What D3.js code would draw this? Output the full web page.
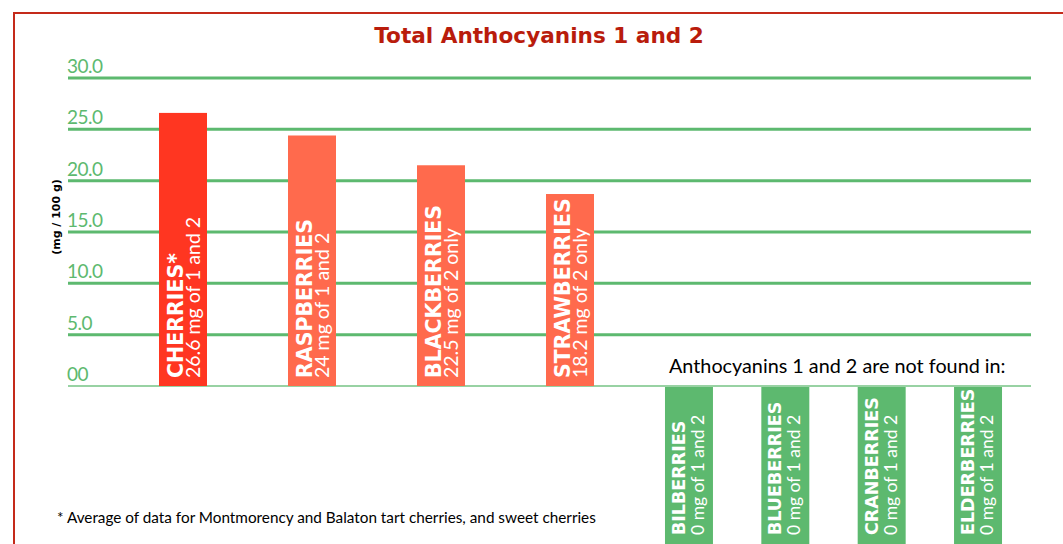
<!DOCTYPE html>
<html>
<head>
<meta charset="utf-8">
<script src="https://cdn.jsdelivr.net/npm/d3@7"></script>
<style>
  html, body { margin: 0; padding: 0; background: #fff; }
  svg { display: block; }
</style>
</head>
<body>
<div id="chart"></div>
<script>
const WIDTH = 1063
const HEIGHT = 544

// Data
const foundNames = ["CHERRIES*", "RASPBERRIES", "BLACKBERRIES", "STRAWBERRIES"]
const foundValues = [26.6, 24.4, 21.5, 18.7]
const foundNotes = ["26.6 mg of 1 and 2", "24 mg of 1 and 2", "22.5 mg of 2 only", "18.2 mg of 2 only"]
const notFoundNames = ["BILBERRIES", "BLUEBERRIES", "CRANBERRIES", "ELDERBERRIES"]
const notFoundNotes = ["0 mg of 1 and 2", "0 mg of 1 and 2", "0 mg of 1 and 2", "0 mg of 1 and 2"]
const yTicks = [0, 5, 10, 15, 20, 25, 30]
const yTickLabels = ["00", "5.0", "10.0", "15.0", "20.0", "25.0", "30.0"]

// Constants
const GREEN = "#5db96f"
const DARK_RED = "#b91c0c"
const BAR_COLORS = ["#ff3621", "#ff6a4d", "#ff6a4d", "#ff6a4d"]
const gridLeft = 68
const gridRight = 1031

// Scales
const y = d3.scaleLinear([0, 30], [386, 78])
const xFound = d3.scaleBand(foundNames, [118.5, 634.5]).paddingInner(0.628).paddingOuter(0.314)
const xNot = d3.scaleBand(notFoundNames, [640.8, 1026.2]).paddingInner(0.502).paddingOuter(0.251)

// Render
const svg = d3.select("#chart").append("svg")
  .attr("width", WIDTH)
  .attr("height", HEIGHT)
  .attr("viewBox", [0, 0, WIDTH, HEIGHT])

// frame (only left and top edges are in view)
svg.append("path")
  .attr("d", `M14,${HEIGHT + 5}V13H${WIDTH + 5}`)
  .attr("fill", "none")
  .attr("stroke", "#c42a1a")
  .attr("stroke-width", 2)

svg.append("text")
  .attr("x", 539)
  .attr("y", 43)
  .attr("text-anchor", "middle")
  .attr("font-family", "DejaVu Sans")
  .attr("font-weight", "bold")
  .attr("font-size", 21.6)
  .attr("fill", DARK_RED)
  .text("Total Anthocyanins 1 and 2")

// grid and tick labels
const grid = svg.append("g")
grid.selectAll("line")
  .data(yTicks)
  .join("line")
    .attr("x1", gridLeft)
    .attr("x2", gridRight)
    .attr("y1", d => y(d))
    .attr("y2", d => y(d))
    .attr("stroke", GREEN)
    .attr("stroke-width", d => d === 0 ? 1.6 : 3)
    .attr("stroke-opacity", d => d === 0 ? 0.85 : 1)

grid.selectAll("text")
  .data(yTicks)
  .join("text")
    .attr("x", 67)
    .attr("y", d => y(d) - 5)
    .attr("font-family", "Lato")
    .attr("font-size", 19)
    .attr("letter-spacing", -0.5)
    .attr("fill", GREEN)
    .text((d, i) => yTickLabels[i])

svg.append("text")
  .attr("transform", "translate(60,217) rotate(-90)")
  .attr("text-anchor", "middle")
  .attr("font-family", "DejaVu Sans")
  .attr("font-weight", "bold")
  .attr("font-size", 11)
  .attr("fill", "#000")
  .text("(mg / 100 g)")

// bars with anthocyanins
const found = svg.append("g")
found.selectAll("rect")
  .data(foundNames)
  .join("rect")
    .attr("x", d => xFound(d))
    .attr("width", xFound.bandwidth())
    .attr("y", (d, i) => y(foundValues[i]))
    .attr("height", (d, i) => y(0) - y(foundValues[i]))
    .attr("fill", (d, i) => BAR_COLORS[i])

found.selectAll("text.name")
  .data(foundNames)
  .join("text")
    .attr("class", "name")
    .attr("transform", d => `translate(${xFound(d) + 24},${y(0) - 8}) rotate(-90)`)
    .attr("font-family", "DejaVu Sans")
    .attr("font-weight", "bold")
    .attr("font-size", 20.5)
    .attr("fill", "#fff")
    .text(d => d)

found.selectAll("text.note")
  .data(foundNames)
  .join("text")
    .attr("class", "note")
    .attr("transform", d => `translate(${xFound(d) + 41},${y(0) - 8}) rotate(-90)`)
    .attr("font-family", "Lato")
    .attr("font-size", 19.5)
    .attr("fill", "#fff")
    .text((d, i) => foundNotes[i])

// not found
svg.append("text")
  .attr("x", 669)
  .attr("y", 373)
  .attr("font-family", "Lato")
  .attr("font-size", 19.8)
  .attr("fill", "#000")
  .text("Anthocyanins 1 and 2 are not found in:")

const notFound = svg.append("g")
notFound.selectAll("rect")
  .data(notFoundNames)
  .join("rect")
    .attr("x", d => xNot(d))
    .attr("width", xNot.bandwidth())
    .attr("y", y(0) + 1)
    .attr("height", HEIGHT - y(0))
    .attr("fill", GREEN)

notFound.selectAll("text.name")
  .data(notFoundNames)
  .join("text")
    .attr("class", "name")
    .attr("transform", d => `translate(${xNot(d) + 20},${HEIGHT - 9}) rotate(-90)`)
    .attr("font-family", "DejaVu Sans")
    .attr("font-weight", "bold")
    .attr("font-size", 17.5)
    .attr("fill", "#fff")
    .text(d => d)

notFound.selectAll("text.note")
  .data(notFoundNames)
  .join("text")
    .attr("class", "note")
    .attr("transform", d => `translate(${xNot(d) + 39},${HEIGHT - 9}) rotate(-90)`)
    .attr("font-family", "Lato")
    .attr("font-size", 17.5)
    .attr("fill", "#fff")
    .text((d, i) => notFoundNotes[i])

svg.append("text")
  .attr("x", 57)
  .attr("y", 523)
  .attr("font-family", "Lato")
  .attr("font-size", 15.3)
  .attr("fill", "#000")
  .text("* Average of data for Montmorency and Balaton tart cherries, and sweet cherries")
</script>
</body>
</html>
